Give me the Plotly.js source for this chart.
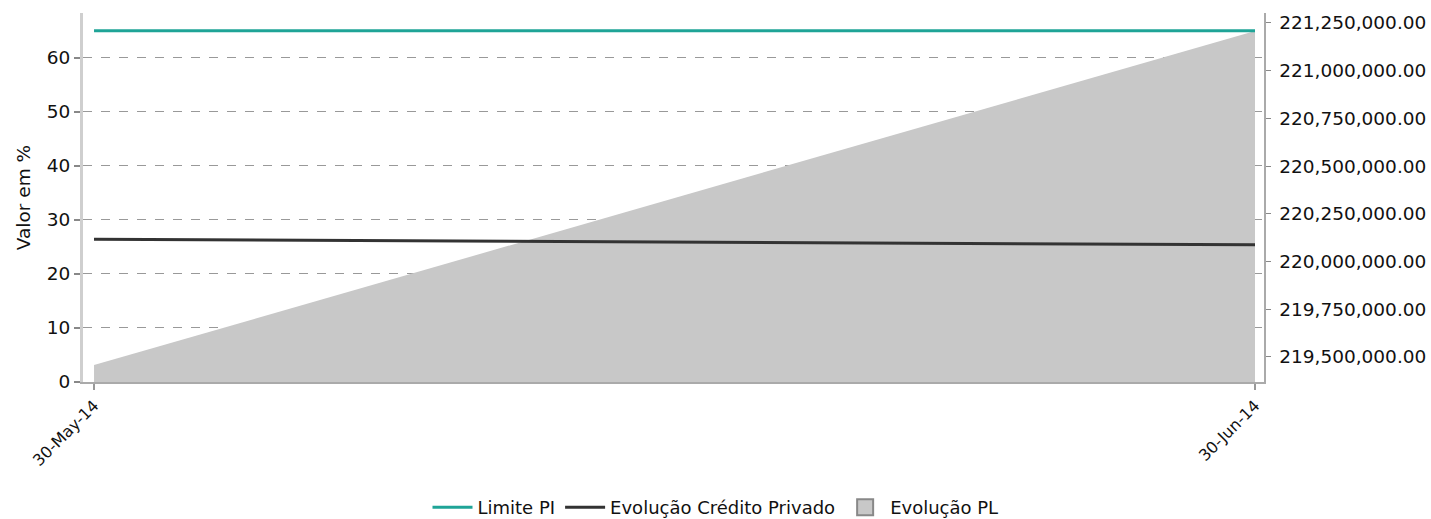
<!DOCTYPE html>
<html>
<head>
<meta charset="utf-8">
<script src="https://cdn.plot.ly/plotly-3.0.1.min.js"></script>
<style>html,body{margin:0;padding:0;background:#fff;}#chart{width:1431px;height:519px;}</style>
</head>
<body>
<div id="chart"></div>
<script>
// Data
const dates = ['2014-05-30', '2014-06-14 12:00', '2014-06-30'];
const limitePI = [65, 65, 65];
const creditoPrivado = [26.4, 25.9, 25.4];
const evolucaoPL = [219458000, 220335000, 221208000];
const xTickVals = ['2014-05-30', '2014-06-30'];
const xTickText = ['30-May-14', '30-Jun-14'];

const font = 'DejaVu Sans, sans-serif';
const fs = 18.5;

const traces = [
  {
    x: dates, y: evolucaoPL, name: 'Evolução PL', type: 'scatter', mode: 'lines',
    fill: 'tozeroy', fillcolor: '#c8c8c8', line: {color: '#c8c8c8', width: 0},
    yaxis: 'y', showlegend: false, legendgroup: 'pl'
  },
  {
    x: dates, y: limitePI, name: 'Limite PI', type: 'scatter', mode: 'lines',
    line: {color: '#1fa497', width: 3}, yaxis: 'y2', legendrank: 1
  },
  {
    x: dates, y: creditoPrivado, name: 'Evolução Crédito Privado', type: 'scatter', mode: 'lines',
    line: {color: '#333333', width: 3}, yaxis: 'y2', legendrank: 2
  },
  // legend entry for the area series (boxed swatch)
  {
    x: [null], y: [null], name: 'Evolução PL', type: 'scatter', mode: 'markers',
    marker: {symbol: 'square', size: 19, color: '#c8c8c8', line: {color: '#888888', width: 2}},
    yaxis: 'y', legendrank: 3, legendgroup: 'pl'
  }
];

const layout = {
  width: 1431, height: 519,
  margin: {l: 83, r: 167, t: 13, b: 137, autoexpand: false},
  paper_bgcolor: '#fff', plot_bgcolor: '#fff',
  font: {family: font, size: fs, color: '#111'},
  showlegend: true,
  legend: {orientation: 'h', xref: 'container', x: 0.5, xanchor: 'center', y: -0.34, yanchor: 'middle',
           itemwidth: 40,
           font: {family: font, size: 18, color: '#111'}, traceorder: 'normal'},
  xaxis: {
    type: 'date',
    range: ['2014-05-29 16:56', '2014-06-30 05:46'],
    tickvals: xTickVals, ticktext: xTickText, tickangle: -45,
    tickfont: {family: font, size: 16, color: '#111'},
    ticks: 'outside', ticklen: 6, tickwidth: 2, tickcolor: '#999',
    showgrid: false, zeroline: false,
    showline: true, linecolor: '#aaa', linewidth: 2
  },
  yaxis: {
    side: 'right',
    range: [219369000, 221302000],
    tick0: 219500000, dtick: 250000, tickformat: ',.2f',
    tickfont: {family: font, size: fs, color: '#111'},
    ticks: 'outside', ticklen: 5, tickcolor: '#888', ticklabelstandoff: 5,
    showgrid: false, zeroline: false,
    showline: true, linecolor: '#aaa', linewidth: 1.5
  },
  yaxis2: {
    side: 'left', overlaying: 'y',
    range: [0, 68.3], tick0: 0, dtick: 10,
    title: {text: 'Valor em %', font: {family: font, size: fs, color: '#111'}, standoff: 12},
    tickfont: {family: font, size: fs, color: '#111'},
    ticks: 'outside', ticklen: 6, tickcolor: '#888', tickwidth: 2,
    showgrid: true, gridcolor: '#999', griddash: 'dash', gridwidth: 1,
    zeroline: false,
    showline: true, linecolor: '#cfcfcf', linewidth: 3
  }
};

Plotly.newPlot('chart', traces, layout, {displayModeBar: false, staticPlot: true});
</script>
</body>
</html>
